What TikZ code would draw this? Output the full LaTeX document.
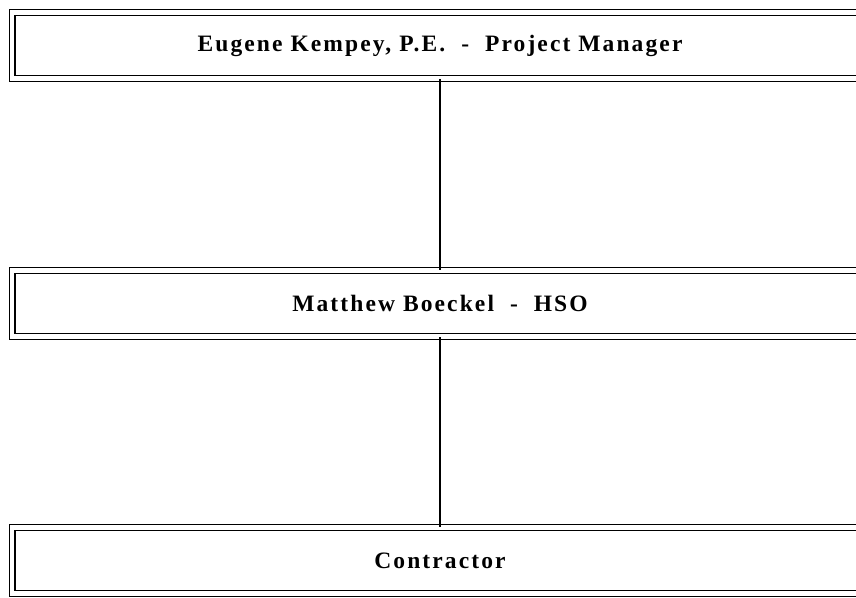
\documentclass[tikz,border=0pt]{standalone}
\usepackage{fontspec}
\usepackage{tikz}
\newfontfamily\chartfont{Liberation Serif}[LetterSpace=9]

\tikzset{
	post/.style={draw=black, double, double distance=4.6pt, line width=1.2pt,
		minimum width=856pt, minimum height=66.5pt, inner sep=0pt,
		font=\chartfont\bfseries\fontsize{23.5}{27}\selectfont},
	link/.style={black, line width=1.3pt}
}

\begin{document}
\begin{tikzpicture}[x=1pt,y=-1pt]
	% \draw[help lines] (0,0) grid (856,597);
	\useasboundingbox (0,0) rectangle (856,597);
	\clip (0,0) rectangle (856,597);
	% posts
	\node[post] (pm) at (440,45.5){Eugene Kempey, P.E. \ - \ Project Manager};
	\node[post] (hso) at (440,303.5){Matthew Boeckel \ - \ HSO};
	\node[post] (contractor) at (440,560.5){Contractor};
	% lines
	\draw[link] (pm.south) -- (hso.north);
	\draw[link] (hso.south) -- (contractor.north);
\end{tikzpicture}
\end{document}
